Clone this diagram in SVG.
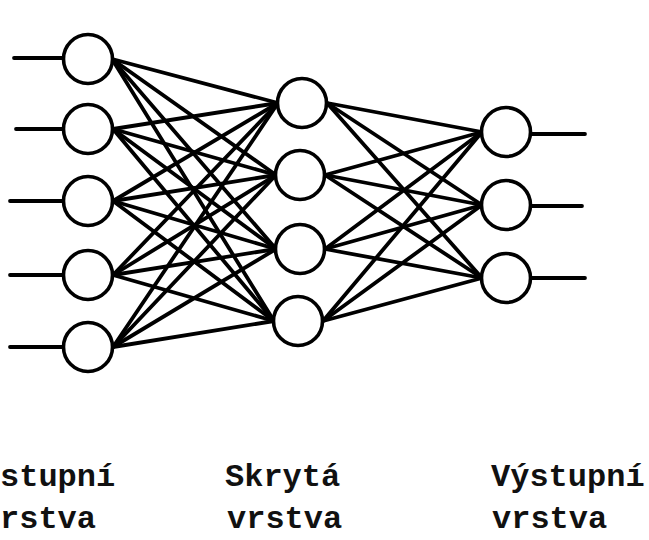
<svg xmlns="http://www.w3.org/2000/svg" width="649" height="540" viewBox="0 0 649 540">
<style>
.n{fill:#fff;stroke:#000;stroke-width:3.6}
.e{stroke:#000;stroke-width:3.8;stroke-linecap:round;fill:none}
.t{font-family:"Liberation Mono","DejaVu Sans Mono",monospace;font-size:32px;font-weight:bold;fill:#111}
</style>
<rect width="649" height="540" fill="#fff"/>
<g id="connectors">
<!-- input lines -->
<line class="e" x1="14" y1="58" x2="63" y2="58"/>
<line class="e" x1="16" y1="129" x2="64" y2="129"/>
<line class="e" x1="10" y1="201" x2="64" y2="201"/>
<line class="e" x1="10" y1="275" x2="64" y2="275"/>
<line class="e" x1="10" y1="347" x2="64" y2="347"/>
<!-- input -> hidden -->
<line class="e" x1="112" y1="59" x2="278" y2="103"/>
<line class="e" x1="112" y1="59" x2="276" y2="175"/>
<line class="e" x1="112" y1="59" x2="276" y2="249"/>
<line class="e" x1="112" y1="59" x2="274" y2="321"/>
<line class="e" x1="113" y1="129" x2="278" y2="103"/>
<line class="e" x1="113" y1="129" x2="276" y2="175"/>
<line class="e" x1="113" y1="129" x2="276" y2="249"/>
<line class="e" x1="113" y1="129" x2="274" y2="321"/>
<line class="e" x1="113" y1="201" x2="278" y2="103"/>
<line class="e" x1="113" y1="201" x2="276" y2="175"/>
<line class="e" x1="113" y1="201" x2="276" y2="249"/>
<line class="e" x1="113" y1="201" x2="274" y2="321"/>
<line class="e" x1="113" y1="275" x2="278" y2="103"/>
<line class="e" x1="113" y1="275" x2="276" y2="175"/>
<line class="e" x1="113" y1="275" x2="276" y2="249"/>
<line class="e" x1="113" y1="275" x2="274" y2="321"/>
<line class="e" x1="113" y1="347" x2="278" y2="103"/>
<line class="e" x1="113" y1="347" x2="276" y2="175"/>
<line class="e" x1="113" y1="347" x2="276" y2="249"/>
<line class="e" x1="113" y1="347" x2="274" y2="321"/>
<!-- hidden -> output -->
<line class="e" x1="327" y1="103" x2="482" y2="132"/>
<line class="e" x1="327" y1="103" x2="482" y2="205"/>
<line class="e" x1="327" y1="103" x2="482" y2="278"/>
<line class="e" x1="325" y1="175" x2="482" y2="132"/>
<line class="e" x1="325" y1="175" x2="482" y2="205"/>
<line class="e" x1="325" y1="175" x2="482" y2="278"/>
<line class="e" x1="325" y1="249" x2="482" y2="132"/>
<line class="e" x1="325" y1="249" x2="482" y2="205"/>
<line class="e" x1="325" y1="249" x2="482" y2="278"/>
<line class="e" x1="323" y1="321" x2="482" y2="132"/>
<line class="e" x1="323" y1="321" x2="482" y2="205"/>
<line class="e" x1="323" y1="321" x2="482" y2="278"/>
<!-- output lines -->
<line class="e" x1="531" y1="134" x2="585" y2="134"/>
<line class="e" x1="531" y1="206" x2="582" y2="206"/>
<line class="e" x1="531" y1="278" x2="585" y2="278"/>
</g>
<g id="in1"><circle class="n" cx="88" cy="59" r="24.5"/></g>
<g id="in2"><circle class="n" cx="88" cy="129" r="24.5"/></g>
<g id="in3"><circle class="n" cx="88" cy="201" r="24.5"/></g>
<g id="in4"><circle class="n" cx="88" cy="275" r="24.5"/></g>
<g id="in5"><circle class="n" cx="88" cy="347" r="24.5"/></g>
<g id="h1"><circle class="n" cx="302" cy="103" r="24.5"/></g>
<g id="h2"><circle class="n" cx="300" cy="175" r="24.5"/></g>
<g id="h3"><circle class="n" cx="300" cy="249" r="24.5"/></g>
<g id="h4"><circle class="n" cx="298" cy="321" r="24.5"/></g>
<g id="o1"><circle class="n" cx="506" cy="132" r="24.5"/></g>
<g id="o2"><circle class="n" cx="506" cy="205" r="24.5"/></g>
<g id="o3"><circle class="n" cx="506" cy="278" r="24.5"/></g>
<g id="labels">
<text class="t" x="0" y="486">stupní</text>
<text class="t" x="0" y="528">rstva</text>
<text class="t" x="225" y="486">Skrytá</text>
<text class="t" x="227" y="528">vrstva</text>
<text class="t" x="491" y="486">Výstupní</text>
<text class="t" x="492" y="528">vrstva</text>
</g>
</svg>
